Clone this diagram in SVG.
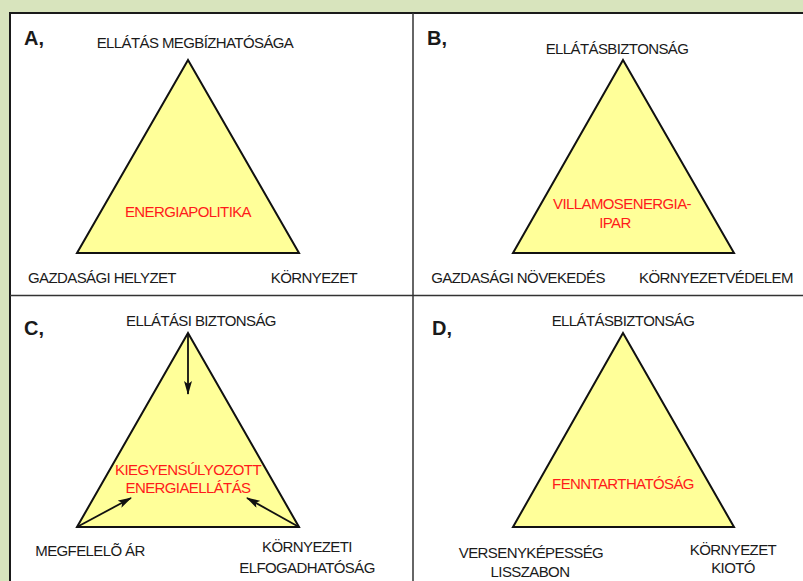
<svg xmlns="http://www.w3.org/2000/svg" width="803" height="581" viewBox="0 0 803 581">
<style>
.lbl{font-family:"Liberation Sans",Arial,sans-serif;font-size:15px;letter-spacing:-0.6px;fill:#1a1a1a;text-anchor:middle}
.red{font-family:"Liberation Sans",Arial,sans-serif;font-size:15px;letter-spacing:-0.6px;fill:#ff1a1a;text-anchor:middle}
.tag{font-family:"Liberation Sans",Arial,sans-serif;font-size:20px;font-weight:bold;fill:#1a1a1a}
.tri{fill:#ffff99;stroke:#111;stroke-width:2;stroke-linejoin:miter}
.arr{stroke:#111;stroke-width:1.8;fill:none;marker-end:url(#ah)}
</style>
<defs>
<marker id="ah" markerUnits="userSpaceOnUse" viewBox="0 0 14 8" refX="13" refY="4" markerWidth="14" markerHeight="8" orient="auto">
<path d="M0,0 L14,4 L0,8 L3,4 z" fill="#111"/>
</marker>
</defs>
<rect x="0" y="0" width="803" height="581" fill="#d8e4bd"/>
<rect x="10" y="13" width="800" height="580" fill="#ffffff" stroke="#1a1a1a" stroke-width="2"/>
<line x1="10" y1="295.5" x2="803" y2="295.5" stroke="#333" stroke-width="1.5"/>
<line x1="413" y1="13" x2="413" y2="581" stroke="#333" stroke-width="1.5"/>

<g id="panelA">
<text class="tag" x="24" y="45">A,</text>
<polygon class="tri" points="188,60 77,253 299,253"/>
<text class="lbl" x="195" y="48">ELLÁTÁS MEGBÍZHATÓSÁGA</text>
<text class="red" x="188" y="217">ENERGIAPOLITIKA</text>
<text class="lbl" x="102" y="283">GAZDASÁGI HELYZET</text>
<text class="lbl" x="314" y="283">KÖRNYEZET</text>
</g>

<g id="panelB">
<text class="tag" x="427" y="45">B,</text>
<polygon class="tri" points="623,60 513,253 734,253"/>
<text class="lbl" x="617" y="54">ELLÁTÁSBIZTONSÁG</text>
<text class="red" x="622" y="209">VILLAMOSENERGIA-</text>
<text class="red" x="615" y="228">IPAR</text>
<text class="lbl" x="518" y="283">GAZDASÁGI NÖVEKEDÉS</text>
<text class="lbl" x="716" y="283">KÖRNYEZETVÉDELEM</text>
</g>

<g id="panelC">
<text class="tag" x="24" y="335">C,</text>
<polygon class="tri" points="188,333 77,527 299,527"/>
<text class="lbl" x="201" y="326">ELLÁTÁSI BIZTONSÁG</text>
<text class="red" x="188" y="475">KIEGYENSÚLYOZOTT</text>
<text class="red" x="188" y="493">ENERGIAELLÁTÁS</text>
<text class="lbl" x="90" y="556">MEGFELELÕ ÁR</text>
<text class="lbl" x="307" y="552">KÖRNYEZETI</text>
<text class="lbl" x="307" y="573">ELFOGADHATÓSÁG</text>
</g>

<g id="panelD">
<text class="tag" x="432" y="335">D,</text>
<polygon class="tri" points="623,333 513,527 734,527"/>
<text class="lbl" x="623" y="326">ELLÁTÁSBIZTONSÁG</text>
<text class="red" x="623" y="489">FENNTARTHATÓSÁG</text>
<text class="lbl" x="531" y="558">VERSENYKÉPESSÉG</text>
<text class="lbl" x="530" y="577">LISSZABON</text>
<text class="lbl" x="733" y="555">KÖRNYEZET</text>
<text class="lbl" x="733" y="573">KIOTÓ</text>
</g>

<g id="connectors">
<line class="arr" x1="188" y1="334" x2="188" y2="394"/>
<line class="arr" x1="77" y1="527" x2="131" y2="498"/>
<line class="arr" x1="299" y1="527" x2="247" y2="498"/>
</g>
</svg>
